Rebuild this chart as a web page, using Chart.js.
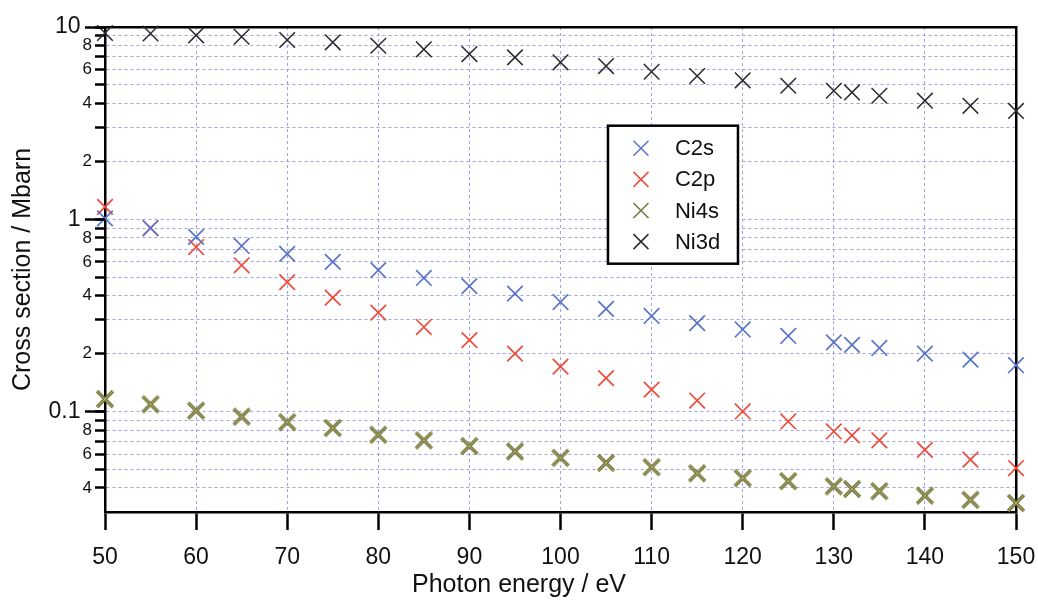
<!DOCTYPE html>
<html>
<head>
<meta charset="utf-8">
<script src="https://cdn.jsdelivr.net/npm/chart.js@4/dist/chart.umd.min.js"></script>
<style>
  html, body { margin: 0; padding: 0; background: #ffffff; }
  #plot { display: block; }
</style>
</head>
<body>
<canvas id="plot" width="1038" height="601"></canvas>
<script>
// Photon energies (eV) at which the cross sections were evaluated
const energy = [50, 55, 60, 65, 70, 75, 80, 85, 90, 95, 100, 105, 110, 115, 120, 125, 130, 132, 135, 140, 145, 150];

// Photoionisation cross sections (Mbarn)
const c2s  = [1.01, 0.90, 0.81, 0.726, 0.66, 0.60, 0.543, 0.495, 0.449, 0.41, 0.371, 0.342, 0.314, 0.288, 0.267, 0.247, 0.229, 0.222, 0.214, 0.200, 0.186, 0.174];
const c2p  = [1.16, 0.90, 0.717, 0.576, 0.471, 0.391, 0.327, 0.275, 0.235, 0.200, 0.171, 0.149, 0.130, 0.114, 0.100, 0.0887, 0.0787, 0.0751, 0.0707, 0.0631, 0.0562, 0.0508];
const ni4s = [0.116, 0.109, 0.101, 0.0940, 0.0879, 0.0820, 0.0757, 0.0707, 0.0661, 0.0620, 0.0574, 0.0540, 0.0513, 0.0477, 0.0450, 0.0434, 0.0408, 0.0395, 0.0385, 0.0365, 0.0347, 0.0334];
const ni3d = [9.3, 9.25, 9.05, 8.9, 8.56, 8.32, 7.99, 7.65, 7.23, 6.95, 6.55, 6.26, 5.85, 5.56, 5.28, 4.95, 4.66, 4.57, 4.39, 4.14, 3.89, 3.66];

const seriesNames = ['C2s', 'C2p', 'Ni4s', 'Ni3d'];

// Axis ranges and ticks
const xMin = 50, xMax = 150, xStep = 10;
const yMin = 0.03, yMax = 10;
const yTickValues = [0.04, 0.05, 0.06, 0.07, 0.08, 0.09,
                     0.1, 0.2, 0.3, 0.4, 0.5, 0.6, 0.7, 0.8, 0.9,
                     1, 2, 3, 4, 5, 6, 7, 8, 9,
                     10];
const yTickLabels = ['4', '', '6', '', '8', '',
                     '0.1', '2', '', '4', '', '6', '', '8', '',
                     '1', '2', '', '4', '', '6', '', '8', '',
                     '10'];
const yDecades = [0.1, 1, 10];

const FONT = "'Liberation Sans', Arial, Helvetica, sans-serif";
const INK = '#111111';
const GRID = 'rgba(130,130,220,0.75)';
const FRAME_W = 2.5;

const colors = ['#5a74c8', '#ef4b3b', '#76763a', '#2b2b2b'];

function isDecade(v) {
  return yDecades.some(d => Math.abs(v - d) < 1e-9);
}

// Doubled-stroke cross used for the Ni4s markers
function doubleCross(color, light) {
  const c = document.createElement('canvas');
  c.width = 24; c.height = 24;
  const g = c.getContext('2d');
  const h = 8;
  const path = () => {
    g.beginPath();
    g.moveTo(12 - h, 12 - h); g.lineTo(12 + h, 12 + h);
    g.moveTo(12 - h, 12 + h); g.lineTo(12 + h, 12 - h);
  };
  path(); g.strokeStyle = color; g.lineWidth = 3.4; g.stroke();
  path(); g.strokeStyle = light; g.lineWidth = 0.9; g.stroke();
  return c;
}

function points(ys) {
  return energy.map((x, i) => ({ x: x, y: ys[i] }));
}

const seriesValues = [c2s, c2p, ni4s, ni3d];
const datasets = seriesNames.map((name, i) => ({
  label: name,
  data: points(seriesValues[i]),
  showLine: false,
  clip: false,
  pointStyle: name === 'Ni4s' ? doubleCross(colors[i], '#b4b47c') : 'crossRot',
  pointRadius: 11,
  pointHoverRadius: 11,
  pointBorderWidth: name === 'Ni3d' ? 1.5 : 1.7,
  borderColor: colors[i],
  backgroundColor: colors[i],
  pointBorderColor: colors[i]
}));

// Longer tick marks at each decade of the logarithmic axis
const decadeTicks = {
  id: 'decadeTicks',
  afterDraw(chart) {
    const y = chart.scales.y;
    const ctx = chart.ctx;
    const left = chart.chartArea.left;
    ctx.save();
    ctx.strokeStyle = '#000';
    ctx.lineWidth = FRAME_W;
    yDecades.forEach(v => {
      const py = Math.round(y.getPixelForValue(v)) + 0.5;
      ctx.beginPath();
      ctx.moveTo(left - 20, py);
      ctx.lineTo(left, py);
      ctx.stroke();
    });
    ctx.restore();
  }
};

// Boxed legend inside the plot area
const boxedLegend = {
  id: 'boxedLegend',
  afterDraw(chart, args, opts) {
    const ctx = chart.ctx;
    const a = chart.chartArea;
    const bx = a.left + opts.fx * a.width;
    const by = a.top + opts.fy * a.height;
    ctx.save();
    ctx.fillStyle = '#ffffff';
    ctx.fillRect(bx, by, opts.w, opts.h);
    ctx.strokeStyle = '#000';
    ctx.lineWidth = FRAME_W;
    ctx.strokeRect(bx, by, opts.w, opts.h);
    ctx.font = opts.fontSize + 'px ' + FONT;
    ctx.textBaseline = 'middle';
    ctx.textAlign = 'left';
    chart.data.datasets.forEach((ds, i) => {
      const cy = by + opts.firstRow + i * opts.rowGap;
      const cx = bx + opts.markerX;
      const h = 7.5;
      ctx.beginPath();
      ctx.moveTo(cx - h, cy - h); ctx.lineTo(cx + h, cy + h);
      ctx.moveTo(cx - h, cy + h); ctx.lineTo(cx + h, cy - h);
      ctx.strokeStyle = ds.borderColor;
      ctx.lineWidth = 1.5;
      ctx.stroke();
      ctx.fillStyle = INK;
      ctx.fillText(ds.label, bx + opts.textX, cy + 1);
    });
    ctx.restore();
  }
};

const frameAxis = (pos, size) => ({
  type: 'linear',
  position: pos,
  display: true,
  grid: { display: false, drawTicks: false },
  ticks: { display: false },
  border: { display: true, color: '#000', width: FRAME_W },
  afterFit(s) { if (pos === 'top') s.height = size; else s.width = size; }
});

new Chart(document.getElementById('plot'), {
  type: 'scatter',
  data: { datasets: datasets },
  plugins: [decadeTicks, boxedLegend],
  options: {
    responsive: false,
    devicePixelRatio: 1,
    animation: false,
    events: [],
    layout: { padding: 0 },
    plugins: {
      legend: { display: false },
      tooltip: { enabled: false },
      title: {
        display: true,
        text: 'Photon energy / eV',
        position: 'bottom',
        color: INK,
        font: { family: FONT, size: 25, weight: 'normal' },
        padding: { top: 0, bottom: 1 }
      },
      boxedLegend: {
        fx: 0.5521, fy: 0.2035, w: 130, h: 138,
        markerX: 33, textX: 67, firstRow: 22.6, rowGap: 31.1, fontSize: 22
      }
    },
    scales: {
      x: {
        type: 'linear',
        position: 'bottom',
        min: xMin,
        max: xMax,
        ticks: {
          stepSize: xStep,
          autoSkip: false,
          maxRotation: 0,
          padding: 14,
          color: INK,
          font: { family: FONT, size: 23 }
        },
        grid: {
          color: GRID,
          lineWidth: 1,
          tickLength: 18,
          tickColor: '#000',
          tickWidth: FRAME_W,
          tickBorderDash: []
        },
        border: { display: true, color: '#000', width: FRAME_W, dash: [3, 3] },
        afterFit(s) {
          s.height = 58;
          s.paddingLeft = 0;
          s.paddingRight = 0;
        }
      },
      y: {
        type: 'logarithmic',
        position: 'left',
        min: yMin,
        max: yMax,
        afterBuildTicks(s) { s.ticks = yTickValues.map(v => ({ value: v })); },
        ticks: {
          autoSkip: false,
          padding: 3,
          color: INK,
          callback(value, index) {
            const label = yTickLabels[index];
            return isDecade(yTickValues[index]) ? label + '\u2002' : label;
          },
          font(ctx) {
            const v = ctx.tick ? ctx.tick.value : 1;
            return { family: FONT, size: isDecade(v) ? 23 : 17 };
          }
        },
        grid: {
          color: GRID,
          lineWidth: 1,
          tickLength: 10,
          tickColor: '#000',
          tickWidth: FRAME_W,
          tickBorderDash: []
        },
        border: { display: true, color: '#000', width: FRAME_W, dash: [3, 3] },
        title: {
          display: true,
          text: 'Cross section / Mbarn',
          color: INK,
          font: { family: FONT, size: 25, weight: 'normal' },
          padding: { top: 8, bottom: 0 }
        },
        afterFit(s) { s.width = 105; }
      },
      x2: frameAxis('top', 27),
      y2: frameAxis('right', 22)
    }
  }
});
</script>
</body>
</html>
